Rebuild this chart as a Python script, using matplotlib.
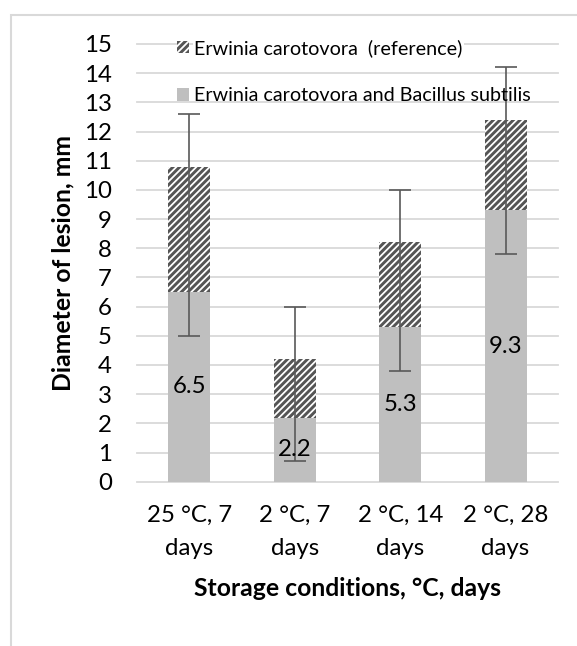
import matplotlib
matplotlib.use("Agg")
import matplotlib.pyplot as plt
from matplotlib.patches import Rectangle
import numpy as np

# ---- data ----
categories = ["25 °C, 7\ndays", "2 °C, 7\ndays", "2 °C, 14\ndays", "2 °C, 28\ndays"]
combined = [6.5, 2.2, 5.3, 9.3]            # Erwinia carotovora and Bacillus subtilis
reference_total = [10.8, 4.2, 8.2, 12.4]   # Erwinia carotovora (reference), top of stack
err_low = [5.0, 0.7, 3.8, 7.8]
err_high = [12.6, 6.0, 10.0, 14.2]
yticks = list(range(0, 16))
series_labels = ["Erwinia carotovora  (reference)", "Erwinia carotovora and Bacillus subtilis"]

plt.rcParams['font.family'] = ['Lato', 'DejaVu Sans']
plt.rcParams['hatch.linewidth'] = 2.1

fig = plt.figure(figsize=(5.77, 6.46), dpi=100)
fig.patches.append(Rectangle((11.5 / 577, -0.2), 1.5, 1 - 14.5 / 646 + 0.2,
                             transform=fig.transFigure, fill=False,
                             edgecolor='#D9D9D9', lw=1.5))

ax = fig.add_axes([0.2369, 0.2543, 0.7307, 0.6776])
x = np.arange(len(categories))
combined_arr = np.array(combined)
ref_part = np.array(reference_total) - combined_arr

b1 = ax.bar(x, combined_arr, width=0.4, color='#BFBFBF', lw=0,
            label=series_labels[1], zorder=2)
b2 = ax.bar(x, ref_part, bottom=combined_arr, width=0.4, facecolor='white',
            edgecolor='#555555', hatch='/////', lw=0,
            label=series_labels[0], zorder=2)

lo = np.array(err_low)
hi = np.array(err_high)
ax.errorbar(x, (lo + hi) / 2, yerr=(hi - lo) / 2, fmt='none', ecolor='#595959',
            elinewidth=1.2, capsize=8, capthick=1.2, zorder=4)

ax.bar_label(b1, labels=[f"{v}" for v in combined], label_type='center',
             fontsize=17.3, color='black', zorder=5)

ax.set_xlim(-0.5, len(categories) - 0.5)
ax.set_ylim(0, 15)
ax.set_yticks(yticks)
ax.set_xticks(x)
ax.set_xticklabels(categories, fontsize=17.3, linespacing=1.7)
ax.tick_params(axis='y', length=0, pad=18, labelsize=17.3)
ax.tick_params(axis='x', length=0, pad=17)
ax.yaxis.grid(True, color='#D9D9D9', lw=1.3)
ax.set_axisbelow(True)
for gl in ax.get_ygridlines():
    gl.set_clip_on(False)
for s in ax.spines.values():
    s.set_visible(False)

ax.set_ylabel('Diameter of lesion, mm', fontsize=17.8, fontweight='bold', va='center')
ax.yaxis.set_label_coords(-0.176, 0.5)
ax.set_xlabel('Storage conditions, °C, days', fontsize=17.8, fontweight='bold', va='center')
ax.xaxis.set_label_coords(0.5, -0.2436)

leg = ax.legend([b2, b1], series_labels, loc='upper left',
                bbox_to_anchor=(176.7 / 577, 1 - 39 / 646),
                bbox_transform=fig.transFigure, frameon=False, fontsize=14.2,
                handlelength=0.6, handleheight=0.6, handletextpad=0.3,
                labelspacing=1.55, borderpad=0, borderaxespad=0)
leg.get_texts()[0].set_bbox(dict(facecolor='white', edgecolor='none', pad=1))

fig.savefig('out.png', dpi=100)
